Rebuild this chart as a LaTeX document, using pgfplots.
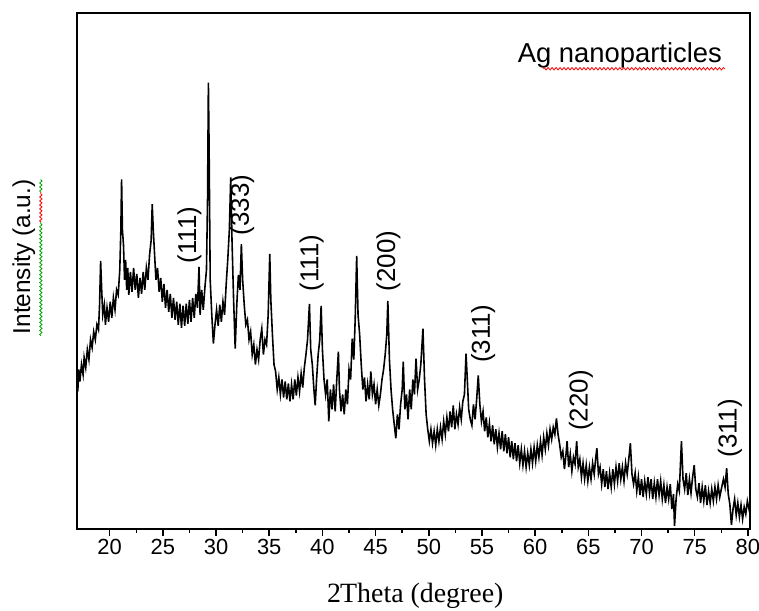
\documentclass[border=0pt]{standalone}
\usepackage{pgfplots}
\pgfplotsset{compat=1.18}
\usepackage{fontspec}
\setmainfont{Liberation Serif}
\newfontfamily\arial{Liberation Sans}
\usetikzlibrary{decorations.pathmorphing}

% XRD pattern, intensity in arbitrary units
\pgfplotstableread{
x y
16.9 150
17.0 138
17.1 160
17.2 148
17.35 165
17.5 155
17.6 172
17.75 162
17.9 180
18.05 170
18.2 190
18.35 182
18.5 198
18.65 190
18.8 205
18.95 200
19.05 225
19.15 269
19.25 240
19.35 215
19.5 225
19.6 205
19.75 222
19.9 208
20.05 228
20.2 212
20.35 232
20.5 220
20.65 240
20.8 235
20.95 260
21.05 300
21.12 351
21.2 300
21.3 285
21.4 250
21.5 270
21.6 240
21.7 262
21.8 235
21.95 258
22.1 238
22.25 262
22.4 240
22.55 256
22.7 232
22.85 252
23.0 236
23.15 258
23.3 240
23.45 262
23.6 250
23.75 275
23.9 290
24.0 326
24.1 300
24.2 280
24.35 250
24.5 262
24.65 238
24.8 252
24.95 228
25.1 246
25.25 222
25.4 240
25.55 218
25.7 236
25.85 212
26.0 232
26.15 210
26.3 228
26.45 205
26.6 226
26.75 202
26.9 224
27.05 204
27.2 226
27.35 206
27.5 230
27.65 208
27.8 232
27.95 212
28.1 236
28.25 222
28.4 263
28.5 215
28.65 240
28.8 220
28.95 242
29.1 260
29.2 330
29.28 448
29.35 380
29.45 250
29.6 215
29.75 186
29.9 205
30.05 220
30.2 204
30.35 225
30.5 208
30.65 228
30.8 215
30.95 245
31.1 270
31.25 300
31.38 353
31.5 290
31.65 230
31.8 181
31.95 225
32.1 255
32.25 240
32.38 286
32.5 250
32.65 225
32.8 205
32.95 210
33.1 190
33.25 198
33.4 175
33.55 185
33.7 165
33.85 180
34.0 170
34.15 190
34.3 201
34.45 175
34.6 190
34.75 185
34.9 215
35.05 276
35.15 230
35.3 195
35.45 165
35.6 158
35.75 140
35.9 152
36.05 135
36.2 150
36.35 132
36.5 148
36.65 130
36.8 146
36.95 128
37.1 145
37.25 130
37.4 150
37.55 134
37.7 152
37.85 138
38.0 156
38.15 142
38.3 162
38.45 175
38.6 190
38.78 226
38.9 180
39.05 165
39.2 140
39.32 124
39.45 150
39.6 175
39.75 190
39.88 224
40.0 180
40.15 150
40.3 135
40.45 150
40.6 108
40.75 140
40.9 120
41.05 145
41.2 118
41.35 150
41.5 178
41.6 140
41.75 118
41.9 135
42.05 115
42.2 140
42.35 125
42.5 160
42.65 150
42.8 191
42.95 170
43.08 210
43.22 274
43.35 215
43.5 195
43.65 165
43.8 140
43.95 152
44.1 128
44.25 145
44.4 130
44.55 158
44.7 135
44.85 145
45.0 125
45.15 140
45.3 124
45.45 135
45.6 150
45.75 160
45.9 175
46.05 195
46.15 229
46.3 170
46.45 140
46.6 120
46.75 105
46.9 91
47.05 115
47.2 100
47.35 125
47.5 140
47.6 168
47.75 120
47.9 135
48.05 110
48.2 140
48.35 120
48.5 150
48.65 135
48.8 171
48.95 140
49.1 150
49.25 165
49.45 201
49.6 150
49.75 115
49.9 100
50.05 88
50.2 100
50.35 86
50.5 98
50.65 84
50.8 100
50.95 88
51.1 102
51.25 90
51.4 108
51.55 95
51.7 112
51.85 98
52.0 118
52.15 102
52.3 124
52.45 100
52.6 115
52.75 105
52.9 122
53.05 110
53.2 128
53.35 135
53.5 176
53.62 150
53.75 120
53.9 110
54.05 104
54.2 125
54.35 110
54.5 130
54.65 154
54.8 125
54.95 108
55.1 118
55.25 98
55.4 112
55.55 92
55.7 106
55.85 88
56.0 104
56.15 85
56.3 100
56.45 82
56.6 96
56.75 80
56.9 98
57.05 78
57.2 95
57.35 76
57.5 92
57.65 72
57.8 88
57.95 70
58.1 86
58.25 68
58.4 84
58.55 66
58.7 80
58.85 64
59.0 78
59.15 62
59.3 76
59.45 64
59.6 80
59.75 66
59.9 82
60.05 68
60.2 84
60.35 72
60.5 88
60.65 74
60.8 92
60.95 80
61.1 96
61.25 84
61.4 100
61.55 90
61.7 102
61.85 95
62.0 111
62.15 95
62.3 85
62.45 72
62.6 78
62.75 60
62.9 75
63.0 88
63.15 62
63.3 75
63.45 58
63.6 72
63.75 65
63.9 88
64.05 62
64.2 70
64.35 52
64.5 66
64.65 50
64.8 64
64.95 48
65.1 62
65.25 50
65.4 66
65.55 55
65.7 72
65.8 81
65.95 55
66.1 62
66.25 45
66.4 60
66.55 42
66.7 58
66.85 40
67.0 56
67.15 42
67.3 60
67.45 45
67.6 62
67.75 48
67.9 66
68.05 50
68.2 62
68.35 48
68.5 66
68.65 55
68.8 70
68.95 86
69.1 55
69.25 45
69.4 56
69.55 38
69.7 52
69.85 34
70.0 50
70.15 32
70.3 48
70.45 35
70.6 52
70.75 36
70.9 50
71.05 30
71.2 46
71.35 32
71.5 50
71.65 34
71.8 48
71.95 30
72.1 44
72.25 26
72.4 42
72.55 30
72.7 45
72.85 20
73.0 35
73.1 3
73.25 30
73.4 45
73.55 38
73.75 88
73.9 50
74.05 40
74.2 56
74.35 34
74.5 50
74.65 36
74.8 52
74.95 64
75.1 40
75.25 32
75.4 46
75.55 26
75.7 42
75.85 28
76.0 44
76.15 24
76.3 38
76.45 26
76.6 40
76.75 28
76.9 42
77.05 30
77.2 44
77.35 32
77.5 40
77.7 50
77.85 42
78.0 61
78.15 35
78.3 25
78.45 4
78.6 20
78.75 30
78.9 14
79.05 26
79.2 12
79.35 24
79.5 10
79.65 22
79.8 15
79.95 28
80.1 20
80.2 25
}\xrd

\begin{document}
\begin{tikzpicture}
\path[use as bounding box] (-77pt,-82pt) rectangle (685pt,531pt);
\begin{axis}[
    scale only axis,
    width=676pt, height=518pt,
    xmin=16.9, xmax=80.2,
    ymin=0, ymax=518,
    xtick={20,25,...,80},
    minor x tick num=1,
    ytick=\empty,
    xtick pos=lower,
    tick align=outside,
    major tick length=7pt,
    minor tick length=4pt,
    every tick/.style={black, line width=1.5pt},
    axis line style={line width=2pt},
    tick label style={font=\arial\fontsize{22}{26}\selectfont},
    /pgf/number format/assume math mode=true,
    clip mode=individual,
]
\addplot[black, line width=1.6pt] table[x=x, y=y] {\xrd};

\begin{scope}[every node/.style={font=\arial\fontsize{26}{30}\selectfont, rotate=90, inner sep=0pt}]
\node at (axis cs:27.49,295) {(111)};
\node at (axis cs:32.45,325) {(333)};
\node at (axis cs:39.0,267) {(111)};
\node at (axis cs:46.2,269) {(200)};
\node at (axis cs:55.1,196) {(311)};
\node at (axis cs:64.3,129) {(220)};
\node at (axis cs:78.3,101) {(311)};
\end{scope}
\end{axis}

% text outside / over the frame, placed in picture points (1pt = 1px of the reference)
\node[anchor=base east, inner sep=0pt, font=\arial\fontsize{27.5}{32}\selectfont] at (648pt,468pt) {Ag nanoparticles};
\draw[red, line width=0.8pt, decorate, decoration={snake, amplitude=1.2pt, segment length=4pt}] (468pt,462pt) -- (651pt,462pt);

\node[rotate=90, inner sep=0pt, font=\arial\fontsize{24.5}{28}\selectfont] at (-53pt,273pt) {Intensity (a.u.)};
\draw[green!65!black, line width=0.8pt, decorate, decoration={snake, amplitude=1.2pt, segment length=4pt}] (-36pt,194pt) -- (-36pt,308pt);
\draw[red, line width=0.8pt, decorate, decoration={snake, amplitude=1.2pt, segment length=4pt}] (-36pt,308pt) -- (-36pt,338pt);
\draw[green!65!black, line width=0.8pt, decorate, decoration={snake, amplitude=1.2pt, segment length=4pt}] (-36pt,338pt) -- (-36pt,351pt);

\node[inner sep=0pt, font=\fontsize{28}{32}\selectfont] at (340pt,-67pt) {2\kern-1pt Theta (degree)};
\end{tikzpicture}
\end{document}
